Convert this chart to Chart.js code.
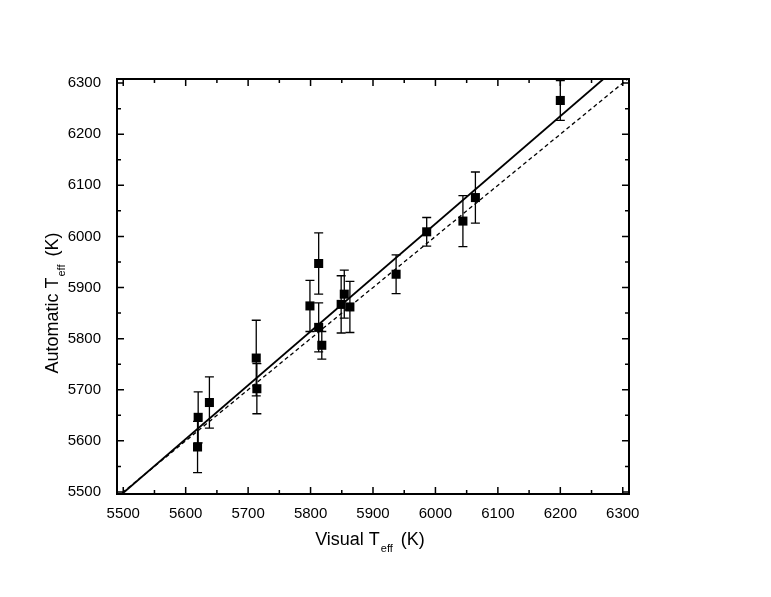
<!DOCTYPE html>
<html>
<head>
<meta charset="utf-8">
<script src="https://cdn.jsdelivr.net/npm/chart.js@4"></script>
<style>
  html, body { margin: 0; padding: 0; background: #fff; }
  #wrap { width: 771px; height: 597px; }
</style>
</head>
<body>
<div id="wrap"><canvas id="myChart"></canvas></div>
<script>
// valores
const visualTeff = [5619, 5620, 5638, 5713, 5714, 5799, 5813, 5813, 5818, 5849, 5854, 5863, 5937, 5986, 6044, 6064, 6200];
const autoTeff = [5588, 5646, 5675, 5762, 5702, 5864, 5947, 5822, 5787, 5867, 5887, 5862, 5926, 6009, 6030, 6076, 6266];
const autoErr = [50, 50, 50, 74, 49, 50, 60, 48, 27, 56, 47, 50, 38, 28, 50, 50, 39];

// recta de ajuste (continua) y recta y = x (discontinua)
const fitX = [5498, 6269];
const fitY = [5496, 6308];
const identX = [5490, 6310];
const identY = [5490, 6310];

const xTicks = [5500, 5600, 5700, 5800, 5900, 6000, 6100, 6200, 6300];
const yTicks = [5500, 5600, 5700, 5800, 5900, 6000, 6100, 6200, 6300];

const xTitle = ["Visual T", "eff", "(K)"];
const yTitle = ["Automatic T", "eff", "(K)"];

const font = "'Liberation Sans', Arial, sans-serif";

// dibuja un titulo con subindice centrado en (0,0)
function drawTitle(ctx, parts) {
  const big = "18px " + font;
  const small = "11px " + font;
  ctx.font = big;
  const w0 = ctx.measureText(parts[0]).width;
  const w2 = ctx.measureText(parts[2]).width;
  ctx.font = small;
  const w1 = ctx.measureText(parts[1]).width;
  const gapA = 1;
  const gapB = 8;
  let sx = -(w0 + gapA + w1 + gapB + w2) / 2;
  ctx.font = big; ctx.fillText(parts[0], sx, 0);
  ctx.font = small; ctx.fillText(parts[1], sx + w0 + gapA, 7);
  ctx.font = big; ctx.fillText(parts[2], sx + w0 + gapA + w1 + gapB, 0);
}

// barras de error, marco y marcas hacia dentro
const framePlugin = {
  id: "frame",
  beforeDatasetsDraw(chart) {
    const ctx = chart.ctx;
    const x = chart.scales.x;
    const y = chart.scales.y;
    ctx.save();
    ctx.strokeStyle = "#000";
    ctx.lineWidth = 1.3;
    visualTeff.forEach((v, i) => {
      const px = x.getPixelForValue(v);
      const top = y.getPixelForValue(autoTeff[i] + autoErr[i]);
      const bot = y.getPixelForValue(autoTeff[i] - autoErr[i]);
      ctx.beginPath();
      ctx.moveTo(px, top);
      ctx.lineTo(px, bot);
      ctx.moveTo(px - 4.5, top);
      ctx.lineTo(px + 4.5, top);
      ctx.moveTo(px - 4.5, bot);
      ctx.lineTo(px + 4.5, bot);
      ctx.stroke();
    });
    ctx.restore();
  },
  afterDraw(chart) {
    const ctx = chart.ctx;
    const a = chart.chartArea;
    const x = chart.scales.x;
    const y = chart.scales.y;
    ctx.save();
    ctx.strokeStyle = "#000";
    ctx.lineWidth = 1.5;
    ctx.beginPath();
    xTicks.forEach((v, i) => {
      const px = x.getPixelForValue(v);
      ctx.moveTo(px, a.bottom); ctx.lineTo(px, a.bottom - 7);
      ctx.moveTo(px, a.top); ctx.lineTo(px, a.top + 7);
      if (i < xTicks.length - 1) {
        const pm = x.getPixelForValue((v + xTicks[i + 1]) / 2);
        ctx.moveTo(pm, a.bottom); ctx.lineTo(pm, a.bottom - 4);
        ctx.moveTo(pm, a.top); ctx.lineTo(pm, a.top + 4);
      }
    });
    yTicks.forEach((v, i) => {
      const py = y.getPixelForValue(v);
      ctx.moveTo(a.left, py); ctx.lineTo(a.left + 7, py);
      ctx.moveTo(a.right, py); ctx.lineTo(a.right - 7, py);
      if (i < yTicks.length - 1) {
        const pm = y.getPixelForValue((v + yTicks[i + 1]) / 2);
        ctx.moveTo(a.left, pm); ctx.lineTo(a.left + 4, pm);
        ctx.moveTo(a.right, pm); ctx.lineTo(a.right - 4, pm);
      }
    });
    ctx.stroke();
    ctx.lineWidth = 2;
    ctx.strokeRect(a.left, a.top, a.right - a.left, a.bottom - a.top);

    // titulos de los ejes
    ctx.fillStyle = "#000";
    ctx.textBaseline = "alphabetic";
    ctx.save();
    ctx.translate(370, 545);
    drawTitle(ctx, xTitle);
    ctx.restore();
    ctx.save();
    ctx.translate(58, 303);
    ctx.rotate(-Math.PI / 2);
    drawTitle(ctx, yTitle);
    ctx.restore();
    ctx.restore();
  }
};

function renderGrafica() {
  const puntos = visualTeff.map((v, i) => ({ x: v, y: autoTeff[i] }));
  const ajuste = fitX.map((v, i) => ({ x: v, y: fitY[i] }));
  const identidad = identX.map((v, i) => ({ x: v, y: identY[i] }));
  const config = {
    type: "scatter",
    data: {
      datasets: [
        {
          label: "Teff",
          data: puntos,
          pointStyle: "rect",
          radius: 6.4,
          backgroundColor: "#000",
          borderColor: "#000",
          borderWidth: 0,
        },
        {
          label: "ajuste",
          type: "line",
          data: ajuste,
          borderColor: "#000",
          borderWidth: 1.8,
          pointRadius: 0,
        },
        {
          label: "y = x",
          type: "line",
          data: identidad,
          borderColor: "#000",
          borderWidth: 1.3,
          borderDash: [4, 3],
          pointRadius: 0,
        },
      ],
    },
    options: {
      responsive: true,
      maintainAspectRatio: false,
      animation: false,
      layout: { padding: { left: 0, top: 79, right: 142, bottom: 0 } },
      plugins: { legend: { display: false }, tooltip: { enabled: false } },
      scales: {
        x: {
          type: "linear",
          min: 5490,
          max: 6310,
          grid: { display: false },
          border: { display: false },
          afterBuildTicks: (s) => { s.ticks = xTicks.map((v) => ({ value: v })); },
          afterFit: (s) => { s.height = 103; },
          ticks: {
            color: "#000",
            padding: 3,
            maxRotation: 0,
            font: { family: font, size: 15 },
            callback: (v) => String(v),
          },
        },
        y: {
          type: "linear",
          min: 5496,
          max: 6308,
          grid: { display: false },
          border: { display: false },
          afterBuildTicks: (s) => { s.ticks = yTicks.map((v) => ({ value: v })); },
          afterFit: (s) => { s.width = 117; },
          ticks: {
            color: "#000",
            padding: 8,
            font: { family: font, size: 15 },
            callback: (v) => String(v),
          },
        },
      },
    },
    plugins: [framePlugin],
  };
  new Chart(document.getElementById("myChart"), config);
}

renderGrafica();
</script>
</body>
</html>
